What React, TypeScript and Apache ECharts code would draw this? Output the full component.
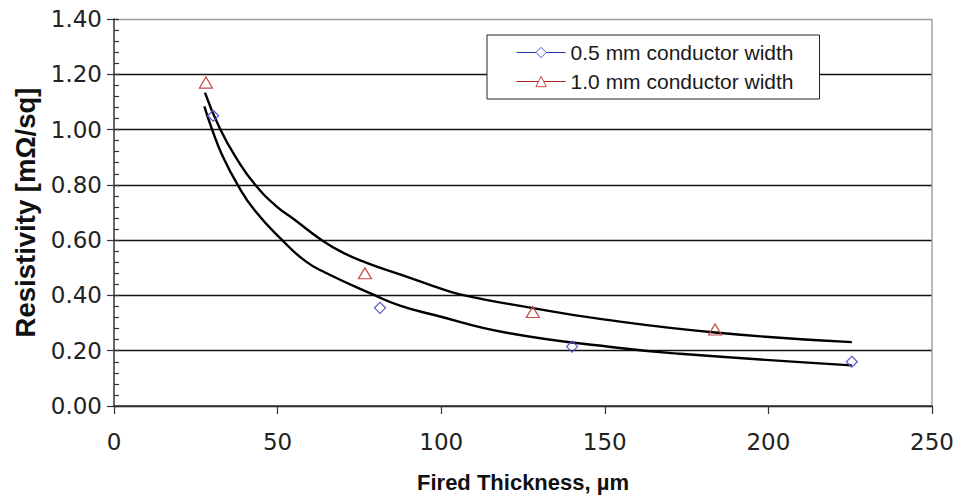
import React, { useEffect, useRef } from "react";
import * as echarts from "echarts";

// Measured data points (Fired thickness µm, resistivity mΩ/sq)
const seriesNames = ["0.5 mm conductor width", "1.0 mm conductor width"];
const thin05X = [30.3, 81.3, 140.0, 225.5];
const thin05Y = [1.05, 0.355, 0.215, 0.16];
const thin10X = [28.1, 76.7, 128.0, 183.7];
const thin10Y = [1.17, 0.48, 0.34, 0.277];

// Trend curves
const trend10X = [27.8, 32.4, 38.0, 43.1, 49.2, 55.3, 63.5, 70.1, 77.2, 87.4, 97.6, 105.7, 128.1, 148.5, 183.7, 225.5];
const trend10Y = [1.134, 1.003, 0.885, 0.801, 0.727, 0.673, 0.6, 0.554, 0.518, 0.476, 0.434, 0.404, 0.354, 0.315, 0.266, 0.231];
const trend05X = [27.6, 29.9, 32.9, 37.8, 43.1, 51.4, 58.4, 64.5, 79.8, 87.4, 97.6, 120.0, 154.6, 173.0, 225.5];
const trend05Y = [1.084, 1.003, 0.912, 0.8, 0.706, 0.6, 0.525, 0.483, 0.4, 0.363, 0.33, 0.265, 0.21, 0.189, 0.147];

// Axes
const xMin = 0;
const xMax = 250;
const xStep = 50;
const yMin = 0;
const yMax = 1.4;
const yStep = 0.2;
const yMinorStep = 0.04;

const zip = (xs: number[], ys: number[]) => xs.map((x, i) => [x, ys[i]]);

export default function App() {
  const ref = useRef<HTMLDivElement>(null);
  useEffect(() => {
    if (!ref.current) return;
    const chart = echarts.init(ref.current, undefined, { renderer: "svg" });
    const labelFont = "DejaVu Sans";
    const titleFont = "Liberation Sans";
    const blueLine = "#2233bb";
    const redLine = "#b02020";
    const blueMark = "#5a5ac8";
    const redMark = "#c84848";
    chart.setOption({
      animation: false,
      backgroundColor: "#ffffff",
      grid: { left: 114, right: 32, top: 19, bottom: 89, containLabel: false },
      legend: {
        orient: "vertical",
        left: 487,
        top: 35,
        backgroundColor: "#ffffff",
        borderColor: "#222222",
        borderWidth: 1,
        borderRadius: 0,
        padding: [7, 26, 7, 29],
        itemGap: 8,
        itemWidth: 49,
        itemHeight: 13,
        textStyle: { fontFamily: titleFont, fontSize: 21, color: "#1a1a1a" },
        data: [
          {
            name: seriesNames[0],
            lineStyle: { width: 1.2, color: blueLine, opacity: 1 },
            itemStyle: { color: "#ffffff", borderColor: blueMark, borderWidth: 1 },
          },
          {
            name: seriesNames[1],
            lineStyle: { width: 1.2, color: redLine, opacity: 1 },
            itemStyle: { color: "#ffffff", borderColor: redMark, borderWidth: 1 },
          },
        ],
      },
      xAxis: {
        type: "value",
        min: xMin,
        max: xMax,
        interval: xStep,
        name: "Fired Thickness, µm",
        nameLocation: "middle",
        nameGap: 65,
        nameTextStyle: { fontFamily: titleFont, fontWeight: "bold", fontSize: 22, color: "#111111" },
        axisLine: { show: true, lineStyle: { color: "#333333", width: 1.5 } },
        axisTick: { show: true, inside: false, length: 8, lineStyle: { color: "#333333", width: 1.2 } },
        axisLabel: { margin: 24, fontFamily: labelFont, fontSize: 23, color: "#222222" },
        splitLine: {
          show: true,
          lineStyle: {
            color: ["rgba(0,0,0,0)", "rgba(0,0,0,0)", "rgba(0,0,0,0)", "rgba(0,0,0,0)", "rgba(0,0,0,0)", "#a0a0a0"],
            width: 1.5,
          },
        },
      },
      yAxis: [
        {
          type: "value",
          min: yMin,
          max: yMax,
          interval: yStep,
          name: "Resistivity [mΩ/sq]",
          nameLocation: "middle",
          nameGap: 74,
          nameTextStyle: { fontFamily: titleFont, fontWeight: "bold", fontSize: 27.5, color: "#111111" },
          axisLine: { show: true, lineStyle: { color: "#333333", width: 1.5 } },
          axisTick: { show: true, inside: false, length: 7, lineStyle: { color: "#333333", width: 1.2 } },
          axisLabel: {
            margin: 12,
            fontFamily: labelFont,
            fontSize: 23,
            color: "#222222",
            formatter: (v: number) => v.toFixed(2),
          },
          splitLine: {
            show: true,
            lineStyle: {
              color: ["#111111", "#111111", "#111111", "#111111", "#111111", "#111111", "#111111", "#a0a0a0"],
              width: 1.3,
            },
          },
        },
        {
          type: "value",
          min: yMin,
          max: yMax,
          interval: yMinorStep,
          position: "left",
          offset: 0,
          axisLine: { show: false },
          axisTick: { show: true, inside: true, length: 5, lineStyle: { color: "#333333", width: 1.2 } },
          axisLabel: { show: false },
          splitLine: { show: false },
        },
      ],
      series: [
        {
          name: "trend10",
          type: "line",
          data: zip(trend10X, trend10Y),
          smooth: 0.5,
          showSymbol: false,
          silent: true,
          lineStyle: { color: "#000000", width: 2.4 },
          z: 2,
        },
        {
          name: "trend05",
          type: "line",
          data: zip(trend05X, trend05Y),
          smooth: 0.5,
          showSymbol: false,
          silent: true,
          lineStyle: { color: "#000000", width: 2.4 },
          z: 2,
        },
        {
          name: seriesNames[0],
          type: "line",
          data: zip(thin05X, thin05Y),
          symbol: "diamond",
          symbolSize: [11, 11],
          showSymbol: true,
          color: blueLine,
          lineStyle: { width: 0 },
          itemStyle: { color: "rgba(255,255,255,0)", borderColor: blueMark, borderWidth: 1.2 },
          z: 3,
        },
        {
          name: seriesNames[1],
          type: "line",
          data: zip(thin10X, thin10Y),
          symbol: "triangle",
          symbolSize: [13, 11],
          showSymbol: true,
          color: redLine,
          lineStyle: { width: 0 },
          itemStyle: { color: "rgba(255,255,255,0)", borderColor: redMark, borderWidth: 1.2 },
          z: 3,
        },
      ],
    });
    return () => chart.dispose();
  }, []);
  return <div ref={ref} style={{ width: 964, height: 498, position: "absolute", left: 0, top: 0 }} />;
}
